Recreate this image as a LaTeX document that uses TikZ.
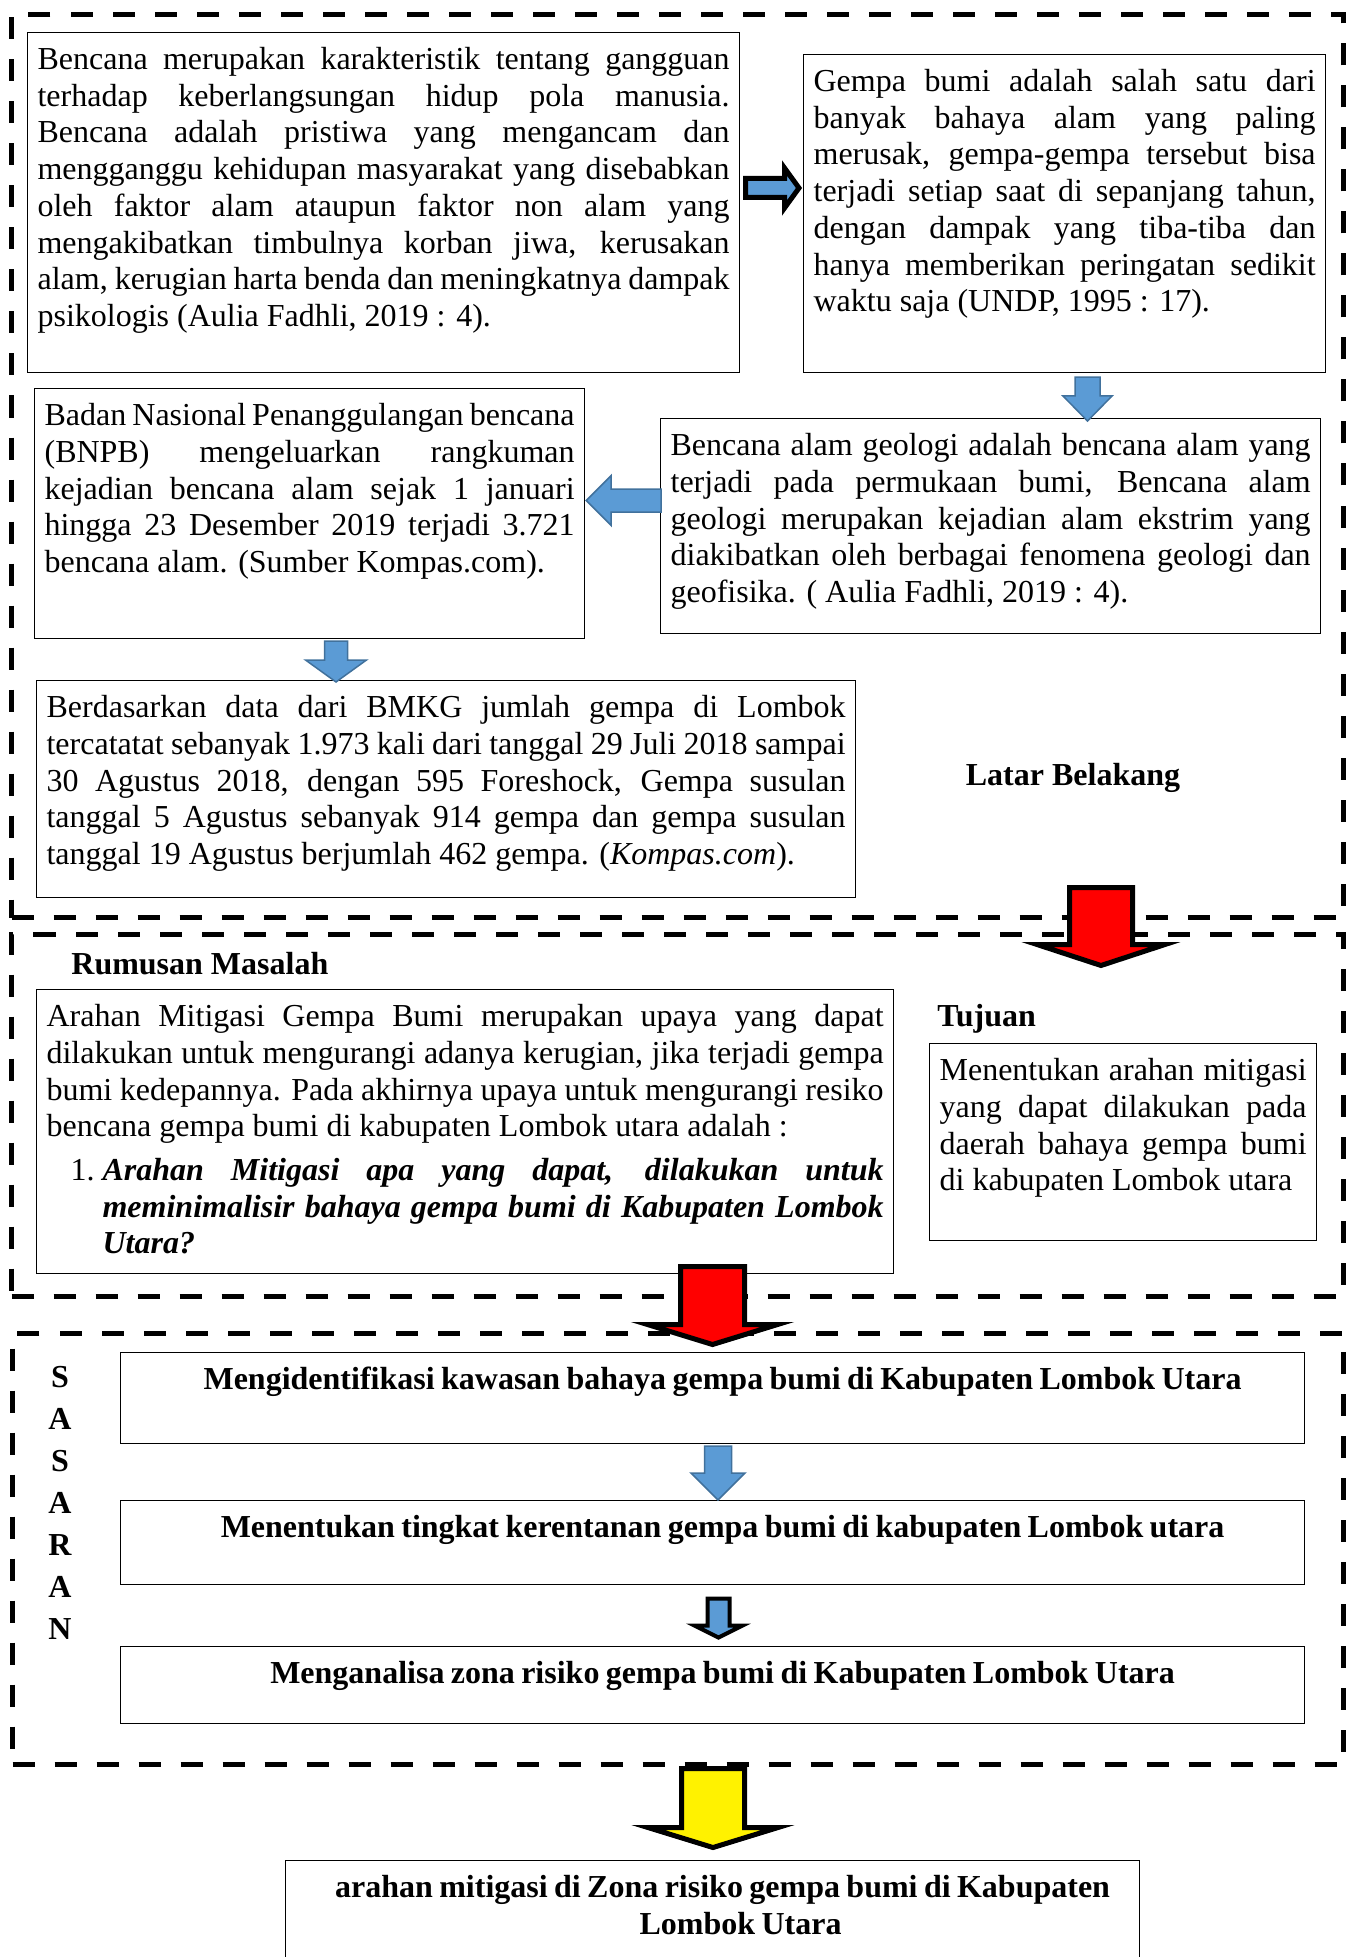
\documentclass[tikz,border=0pt]{standalone}
\usepackage{fontspec}
\setmainfont{Liberation Serif}
\usetikzlibrary{calc}
\definecolor{arrowblue}{HTML}{5B9BD5}
\definecolor{arrowedge}{HTML}{41719C}

\newcommand{\boxfont}{\fontsize{16}{18.35}\selectfont\hyphenpenalty=10000\exhyphenpenalty=10000\tolerance=10000}
\newcommand{\goalstart}{\spaceskip=0.2em\relax\hspace*{10pt}}

% block arrow: [style]{start}{tip}{shaft half width}{head half width}{head length}
\newcommand{\blockarrow}[6][]{%
  \coordinate (bahead) at ($(#3)!#6!(#2)$);
  \draw[#1] ($(#2)!#4!90:(#3)$) -- ($(bahead)!#4!90:(#3)$) -- ($(bahead)!#5!90:(#3)$) -- (#3)
    -- ($(bahead)!#5!-90:(#3)$) -- ($(bahead)!#4!-90:(#3)$) -- ($(#2)!#4!-90:(#3)$) -- cycle;}

\begin{document}
\begin{tikzpicture}[
    x=0.5pt, y=-0.5pt,
    every node/.style={font=\boxfont},
    tbox/.style 2 args={draw, line width=0.6pt, anchor=north west, inner xsep=5pt, inner ysep=6.5pt,
        text width=#1, text height=12pt, text depth=#2, align=justify},
    goalbox/.style 2 args={tbox={#1}{#2}, align=center, font=\boxfont\bfseries},
    frame/.style 2 args={draw, line width=2.5pt, dash pattern=on 11pt off 10pt, anchor=north west,
        inner sep=0pt, minimum width=#1, minimum height=#2},
    heading/.style={font=\boxfont\bfseries, inner sep=0pt},
    bluearrow/.style={fill=arrowblue, draw=arrowedge, line width=0.75pt},
    blueblack/.style={fill=arrowblue, draw=black, line width=2.5pt},
    redarrow/.style={fill=red, draw=black, line width=2.5pt},
    yellowarrow/.style={fill=yellow, draw=black, line width=2.5pt}
]
\useasboundingbox (0,0) rectangle (1346,1957);

% Frames
\node[frame={666pt}{451.5pt}] (latar) at (9,12) {};
\node[frame={666pt}{181pt}] (rumusan) at (9,932) {};
\node[frame={665.5pt}{215.5pt}] (sasaranframe) at (10,1331) {};

% Latar Belakang
\node[tbox={346pt}{145pt}] (box1) at (27,32) {Bencana merupakan karakteristik tentang gangguan\linebreak
terhadap keberlangsungan hidup pola manusia.\linebreak
Bencana adalah pristiwa yang mengancam dan\linebreak
mengganggu kehidupan masyarakat yang disebabkan\linebreak
oleh faktor alam ataupun faktor non alam yang\linebreak
mengakibatkan timbulnya korban jiwa, kerusakan\linebreak
alam, kerugian harta benda dan meningkatnya dampak\linebreak
psikologis (Aulia Fadhli, 2019 : 4).};

\node[tbox={251pt}{134pt}] (box2) at (803,54) {Gempa bumi adalah salah satu dari\linebreak
banyak bahaya alam yang paling\linebreak
merusak, gempa-gempa tersebut bisa\linebreak
terjadi setiap saat di sepanjang tahun,\linebreak
dengan dampak yang tiba-tiba dan\linebreak
hanya memberikan peringatan sedikit\linebreak
waktu saja (UNDP, 1995 : 17).};

\node[tbox={265pt}{100pt}] (box3) at (34,388) {Badan Nasional Penanggulangan bencana\linebreak
(BNPB) mengeluarkan rangkuman\linebreak
kejadian bencana alam sejak 1 januari\linebreak
hingga 23 Desember 2019 terjadi 3.721\linebreak
bencana alam. (Sumber Kompas.com).};

\node[tbox={320pt}{82.5pt}] (box4) at (660,418) {Bencana alam geologi adalah bencana alam yang\linebreak
terjadi pada permukaan bumi, Bencana alam\linebreak
geologi merupakan kejadian alam ekstrim yang\linebreak
diakibatkan oleh berbagai fenomena geologi dan\linebreak
geofisika. ( Aulia Fadhli, 2019 : 4).};

\node[tbox={399.5pt}{83.5pt}] (box5) at (36,680) {Berdasarkan data dari BMKG jumlah gempa di Lombok\linebreak
tercatatat sebanyak 1.973 kali dari tanggal 29 Juli 2018 sampai\linebreak
30 Agustus 2018, dengan 595 Foreshock, Gempa susulan\linebreak
tanggal 5 Agustus sebanyak 914 gempa dan gempa susulan\linebreak
tanggal 19 Agustus berjumlah 462 gempa. (\textit{Kompas.com}).};

\node[heading, anchor=base] (latarlabel) at (1073,785) {Latar Belakang};

% Rumusan Masalah and Tujuan
\node[heading, anchor=base west] (rumusanlabel) at (71,974) {Rumusan Masalah};
\node[tbox={418.5pt}{117pt}] (box6) at (36,989) {Arahan Mitigasi Gempa Bumi merupakan upaya yang dapat\linebreak
dilakukan untuk mengurangi adanya kerugian, jika terjadi gempa\linebreak
bumi kedepannya. Pada akhirnya upaya untuk mengurangi resiko\linebreak
bencana gempa bumi di kabupaten Lombok utara adalah :\par
\vspace{3.5pt}
{\leftskip=28pt\noindent\llap{\makebox[16pt][l]{1.}}\bfseries\itshape Arahan Mitigasi apa yang dapat, dilakukan untuk\linebreak
meminimalisir bahaya gempa bumi di Kabupaten Lombok\linebreak
Utara?\par}};

\node[heading, anchor=base west] (tujuanlabel) at (937,1026) {Tujuan};
\node[tbox={183.5pt}{73.5pt}] (box7) at (929,1043) {Menentukan arahan mitigasi\linebreak
yang dapat dilakukan pada\linebreak
daerah bahaya gempa bumi\linebreak
di kabupaten Lombok utara};

% Sasaran
\node[heading, align=center, font=\fontsize{16}{21}\selectfont\bfseries] (sasaran) at (60,1503) {S\\A\\S\\A\\R\\A\\N};
\node[goalbox={582pt}{20.5pt}] (box8) at (120,1352) {\goalstart Mengidentifikasi kawasan bahaya gempa bumi di Kabupaten Lombok Utara};
\node[goalbox={582pt}{17pt}] (box9) at (120,1500) {\goalstart Menentukan tingkat kerentanan gempa bumi di kabupaten Lombok utara};
\node[goalbox={582pt}{13.5pt}] (box10) at (120,1646) {\goalstart Menganalisa zona risiko gempa bumi di Kabupaten Lombok Utara};

% Result
\node[goalbox={417pt}{35pt}] (box11) at (285,1860) {\goalstart arahan mitigasi di Zona risiko gempa bumi di Kabupaten\\\hspace*{28pt}Lombok Utara};

% Arrows
\coordinate (p1a) at ($(box1.east |- 0,188)+(5.5,0)$);
\coordinate (p1b) at ($(box2.west |- 0,188)+(-4,0)$);
\blockarrow[blueblack]{p1a}{p1b}{4.75pt}{10pt}{7.25pt}

\coordinate (p2a) at ($(box2.south -| 1087.5,0)+(0,4)$);
\coordinate (p2b) at ($(box4.north -| 1087.5,0)+(0,3)$);
\blockarrow[bluearrow]{p2a}{p2b}{6.25pt}{12.25pt}{12.5pt}

\coordinate (p3a) at ($(box4.west |- 0,500.5)+(1,0)$);
\coordinate (p3b) at ($(box3.east |- 0,500.5)+(1,0)$);
\blockarrow[bluearrow]{p3a}{p3b}{5.75pt}{12.5pt}{12.5pt}

\coordinate (p4a) at ($(box3.south -| 336,0)+(0,2)$);
\coordinate (p4b) at ($(box5.north -| 336,0)+(0,2)$);
\blockarrow[bluearrow]{p4a}{p4b}{5.75pt}{15.25pt}{11pt}

\coordinate (p5a) at ($(latar.south -| 1101,0)+(0,-32.5)$);
\coordinate (p5b) at ($(rumusan.north -| 1101,0)+(0,33.5)$);
\blockarrow[redarrow]{p5a}{p5b}{15.75pt}{32pt}{10.5pt}

\coordinate (p6a) at ($(rumusan.south -| 712.5,0)+(0,-32.5)$);
\coordinate (p6b) at ($(sasaranframe.north -| 712.5,0)+(0,13.5)$);
\blockarrow[redarrow]{p6a}{p6b}{16pt}{32.5pt}{10pt}

\coordinate (p7a) at ($(box8.south -| 718,0)+(0,2)$);
\coordinate (p7b) at (box9.north -| 718,0);
\blockarrow[bluearrow]{p7a}{p7b}{6.75pt}{13.5pt}{13.5pt}

\coordinate (p8a) at ($(box9.south -| 718.5,0)+(0,13.5)$);
\coordinate (p8b) at ($(box10.north -| 718.5,0)+(0,-8.5)$);
\blockarrow[blueblack, line width=2pt]{p8a}{p8b}{5.5pt}{12pt}{6pt}

\coordinate (p9a) at ($(sasaranframe.south -| 713,0)+(0,1.5)$);
\coordinate (p9b) at ($(box11.north -| 713,0)+(0,-12.5)$);
\blockarrow[yellowarrow]{p9a}{p9b}{15.75pt}{32.5pt}{10pt}

\end{tikzpicture}
\end{document}
